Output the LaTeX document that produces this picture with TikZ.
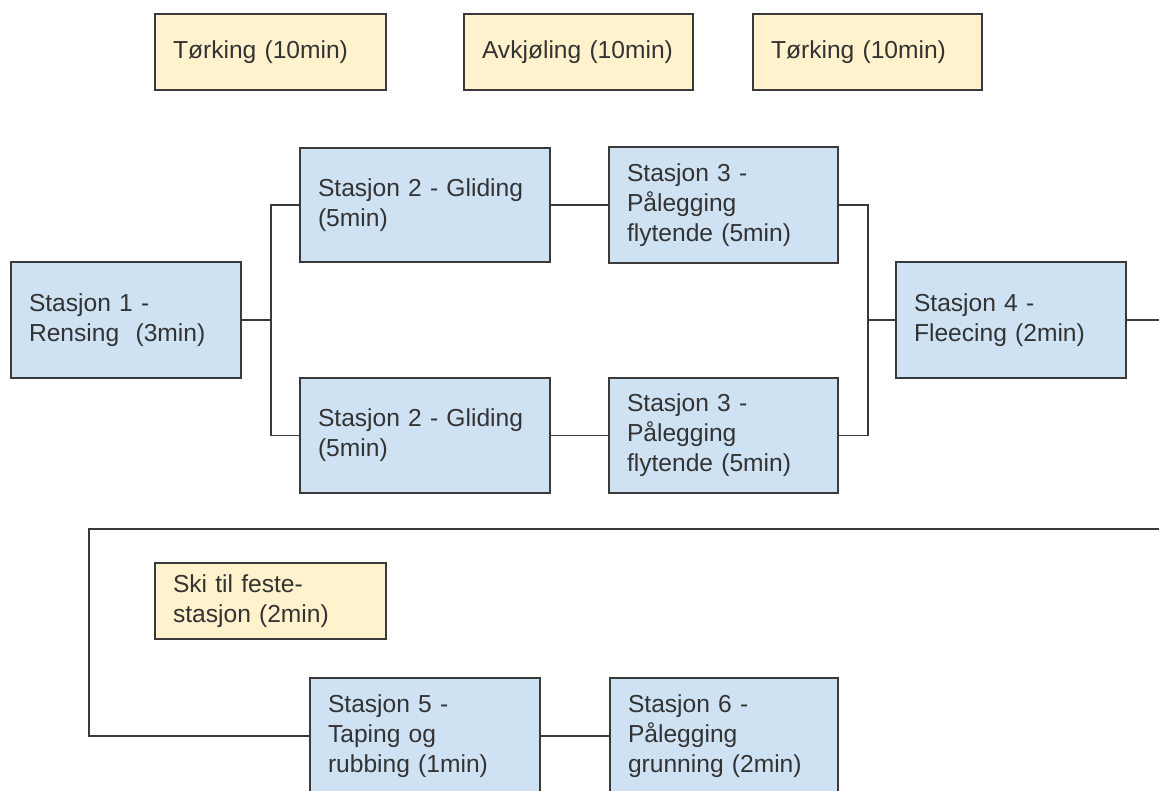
\documentclass[tikz,border=0pt]{standalone}
\usepackage{fontspec}
\setmainfont{Liberation Sans}
\definecolor{ybox}{HTML}{FFF2CC}
\definecolor{bbox}{HTML}{CFE2F3}
\definecolor{edge}{HTML}{3A3A3A}
\definecolor{txt}{HTML}{333333}
\tikzset{
  boxbase/.style={draw=edge, line width=1.8pt, outer sep=0pt, inner xsep=18pt, inner ysep=0pt,
    anchor=north west, align=left, text=txt, font=\fontsize{24.6}{30}\selectfont},
  ybx/.style={boxbase, fill=ybox},
  bbx/.style={boxbase, fill=bbox},
  conn/.style={draw=edge, line width=1.8pt},
}
\begin{document}
\begin{tikzpicture}[x=1pt,y=-1pt]
\useasboundingbox (0,0) rectangle (1159,791);
\fill[white] (0,0) rectangle (1159,791);
% top yellow boxes
\node[ybx, text width=195, minimum height=76] (t1) at (155,14) {Tørking (10min)};
\node[ybx, text width=193, minimum height=76] (av) at (464,14) {Avkjøling (10min)};
\node[ybx, text width=193, minimum height=76] (t2) at (753,14) {Tørking (10min)};
% stations
\node[bbx, text width=194, minimum height=116] (s1) at (11,262) {Stasjon 1 -\\Rensing\ \ (3min)};
\node[bbx, text width=214, minimum height=114] (s2a) at (300,148) {Stasjon 2 - Gliding\\(5min)};
\node[bbx, text width=214, minimum height=115] (s2b) at (300,378) {Stasjon 2 - Gliding\\(5min)};
\node[bbx, text width=193, minimum height=116] (s3a) at (609,147) {Stasjon 3 -\\Pålegging\\flytende (5min)};
\node[bbx, text width=193, minimum height=115] (s3b) at (609,378) {Stasjon 3 -\\Pålegging\\flytende (5min)};
\node[bbx, text width=194, minimum height=116] (s4) at (896,262) {Stasjon 4 -\\Fleecing (2min)};
\node[ybx, text width=195, minimum height=76] (ski) at (155,563) {Ski til feste-\\stasjon (2min)};
\node[bbx, text width=194, minimum height=116] (s5) at (310,678) {Stasjon 5 -\\Taping og\\rubbing (1min)};
\node[bbx, text width=192, minimum height=116] (s6) at (610,678) {Stasjon 6 -\\Pålegging\\grunning (2min)};
% junctions
\coordinate (j1) at (271,320);
\coordinate (j2) at (868,320);
\coordinate (e1) at (1159,320);
\coordinate (e2) at (1159,529);
\coordinate (c1) at (89,529);
% connectors
\draw[conn] (s1.east) -- (j1);
\draw[conn] (s2a.west) -| (j1) |- (s2b.west);
\draw[conn] (s2a.east) -- (s3a.west);
\draw[conn] (s2b.east) -- (s3b.west);
\draw[conn] (s3a.east) -| (j2) |- (s3b.east);
\draw[conn] (j2) -- (s4.west);
\draw[conn] (s4.east) -- (e1);
\draw[conn] (e2) -- (c1) |- (s5.west);
\draw[conn] (s5.east) -- (s6.west);
\end{tikzpicture}
\end{document}
